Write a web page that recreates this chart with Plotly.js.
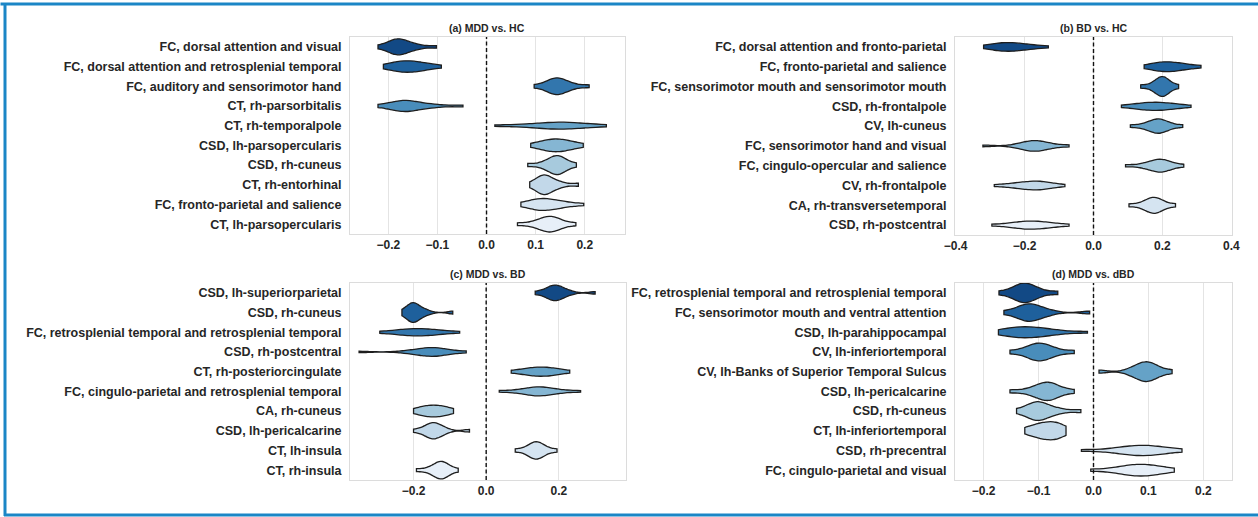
<!DOCTYPE html>
<html>
<head>
<meta charset="utf-8">
<script src="https://cdn.plot.ly/plotly-3.0.1.min.js"></script>
<style>
  html, body { margin: 0; padding: 0; background: #ffffff; }
  #chart { width: 1258px; height: 517px; }
</style>
</head>
<body>
<div id="chart"></div>
<script>
// ---------------- DATA ----------------
const titleA = "(a) MDD vs. HC";
const titleB = "(b) BD vs. HC";
const titleC = "(c) MDD vs. BD";
const titleD = "(d) MDD vs. dBD";

const labelsA = [
  "FC, dorsal attention and visual",
  "FC, dorsal attention and retrosplenial temporal",
  "FC, auditory and sensorimotor hand",
  "CT, rh-parsorbitalis",
  "CT, rh-temporalpole",
  "CSD, lh-parsopercularis",
  "CSD, rh-cuneus",
  "CT, rh-entorhinal",
  "FC, fronto-parietal and salience",
  "CT, lh-parsopercularis"
];
const samplesA = [
  [-0.221, -0.200, -0.192, -0.187, -0.182, -0.179, -0.176, -0.170, -0.163, -0.153, -0.139, -0.102],
  [-0.210, -0.190, -0.183, -0.176, -0.169, -0.162, -0.155, -0.147, -0.139, -0.130, -0.120, -0.092],
  [0.097, 0.120, 0.129, 0.135, 0.139, 0.143, 0.146, 0.151, 0.157, 0.166, 0.178, 0.209],
  [-0.221, -0.193, -0.182, -0.175, -0.169, -0.165, -0.160, -0.152, -0.140, -0.125, -0.103, -0.048],
  [0.017, 0.070, 0.100, 0.118, 0.132, 0.143, 0.150, 0.160, 0.172, 0.188, 0.210, 0.244],
  [0.090, 0.111, 0.120, 0.126, 0.133, 0.139, 0.145, 0.152, 0.159, 0.166, 0.175, 0.197],
  [0.084, 0.112, 0.124, 0.131, 0.137, 0.141, 0.144, 0.147, 0.151, 0.156, 0.164, 0.183],
  [0.088, 0.103, 0.109, 0.113, 0.116, 0.118, 0.121, 0.126, 0.133, 0.141, 0.154, 0.187],
  [0.070, 0.092, 0.099, 0.105, 0.110, 0.115, 0.122, 0.131, 0.140, 0.150, 0.163, 0.198],
  [0.063, 0.094, 0.107, 0.115, 0.122, 0.126, 0.130, 0.133, 0.139, 0.146, 0.156, 0.182]
];

const labelsB = [
  "FC, dorsal attention and fronto-parietal",
  "FC, fronto-parietal and salience",
  "FC, sensorimotor mouth and sensorimotor mouth",
  "CSD, rh-frontalpole",
  "CV, lh-cuneus",
  "FC, sensorimotor hand and visual",
  "FC, cingulo-opercular and salience",
  "CV, rh-frontalpole",
  "CA, rh-transversetemporal",
  "CSD, rh-postcentral"
];
const samplesB = [
  [-0.319, -0.289, -0.277, -0.267, -0.258, -0.249, -0.238, -0.225, -0.211, -0.196, -0.177, -0.131],
  [0.147, 0.175, 0.186, 0.195, 0.204, 0.212, 0.222, 0.233, 0.245, 0.257, 0.274, 0.312],
  [0.137, 0.167, 0.179, 0.187, 0.193, 0.197, 0.200, 0.204, 0.209, 0.215, 0.224, 0.247],
  [0.081, 0.124, 0.138, 0.150, 0.162, 0.174, 0.186, 0.198, 0.210, 0.223, 0.240, 0.283],
  [0.107, 0.145, 0.161, 0.171, 0.179, 0.185, 0.189, 0.194, 0.201, 0.211, 0.224, 0.259],
  [-0.321, -0.224, -0.203, -0.191, -0.182, -0.175, -0.167, -0.160, -0.150, -0.137, -0.119, -0.071],
  [0.093, 0.141, 0.159, 0.172, 0.182, 0.189, 0.194, 0.199, 0.206, 0.215, 0.228, 0.262],
  [-0.288, -0.241, -0.221, -0.205, -0.191, -0.177, -0.167, -0.161, -0.153, -0.141, -0.125, -0.083],
  [0.103, 0.138, 0.151, 0.161, 0.168, 0.173, 0.177, 0.181, 0.188, 0.196, 0.208, 0.238],
  [-0.295, -0.240, -0.222, -0.209, -0.197, -0.186, -0.175, -0.163, -0.151, -0.137, -0.119, -0.071]
];

const labelsC = [
  "CSD, lh-superiorparietal",
  "CSD, rh-cuneus",
  "FC, retrosplenial temporal and retrosplenial temporal",
  "CSD, rh-postcentral",
  "CT, rh-posteriorcingulate",
  "FC, cingulo-parietal and retrosplenial temporal",
  "CA, rh-cuneus",
  "CSD, lh-pericalcarine",
  "CT, lh-insula",
  "CT, rh-insula"
];
const samplesC = [
  [0.135, 0.161, 0.172, 0.179, 0.185, 0.188, 0.193, 0.199, 0.205, 0.214, 0.230, 0.300],
  [-0.232, -0.217, -0.211, -0.206, -0.203, -0.201, -0.197, -0.191, -0.185, -0.176, -0.161, -0.092],
  [-0.293, -0.245, -0.230, -0.218, -0.206, -0.194, -0.182, -0.169, -0.156, -0.142, -0.124, -0.073],
  [-0.350, -0.222, -0.194, -0.178, -0.166, -0.156, -0.147, -0.141, -0.131, -0.119, -0.101, -0.055],
  [0.069, 0.102, 0.116, 0.126, 0.136, 0.146, 0.156, 0.165, 0.175, 0.185, 0.198, 0.230],
  [0.036, 0.089, 0.110, 0.124, 0.135, 0.143, 0.149, 0.157, 0.169, 0.184, 0.205, 0.260],
  [-0.200, -0.182, -0.174, -0.165, -0.157, -0.149, -0.141, -0.133, -0.125, -0.116, -0.108, -0.090],
  [-0.200, -0.174, -0.163, -0.156, -0.151, -0.147, -0.142, -0.137, -0.131, -0.123, -0.109, -0.046],
  [0.080, 0.108, 0.119, 0.126, 0.132, 0.136, 0.140, 0.144, 0.149, 0.157, 0.168, 0.195],
  [-0.192, -0.160, -0.147, -0.138, -0.132, -0.127, -0.124, -0.120, -0.115, -0.109, -0.100, -0.077]
];

const labelsD = [
  "FC, retrosplenial temporal and retrosplenial temporal",
  "FC, sensorimotor mouth and ventral attention",
  "CSD, lh-parahippocampal",
  "CV, lh-inferiortemporal",
  "CV, lh-Banks of Superior Temporal Sulcus",
  "CSD, lh-pericalcarine",
  "CSD, rh-cuneus",
  "CT, lh-inferiortemporal",
  "CSD, rh-precentral",
  "FC, cingulo-parietal and visual"
];
const samplesD = [
  [-0.172, -0.149, -0.141, -0.134, -0.130, -0.126, -0.123, -0.119, -0.113, -0.105, -0.094, -0.065],
  [-0.163, -0.140, -0.132, -0.125, -0.121, -0.117, -0.113, -0.107, -0.101, -0.092, -0.077, -0.007],
  [-0.173, -0.153, -0.144, -0.137, -0.131, -0.125, -0.115, -0.104, -0.093, -0.082, -0.067, -0.011],
  [-0.152, -0.126, -0.116, -0.109, -0.103, -0.100, -0.096, -0.092, -0.085, -0.077, -0.065, -0.035],
  [0.010, 0.065, 0.077, 0.084, 0.089, 0.093, 0.097, 0.101, 0.105, 0.112, 0.120, 0.143],
  [-0.152, -0.120, -0.107, -0.098, -0.092, -0.087, -0.084, -0.080, -0.075, -0.069, -0.059, -0.035],
  [-0.140, -0.121, -0.113, -0.108, -0.104, -0.101, -0.098, -0.092, -0.085, -0.075, -0.060, -0.023],
  [-0.125, -0.111, -0.104, -0.098, -0.092, -0.085, -0.079, -0.075, -0.070, -0.065, -0.060, -0.050],
  [-0.022, 0.035, 0.052, 0.064, 0.074, 0.083, 0.091, 0.099, 0.108, 0.118, 0.131, 0.161],
  [-0.005, 0.040, 0.054, 0.064, 0.073, 0.081, 0.088, 0.095, 0.103, 0.112, 0.124, 0.147]
];

const tickValsA = [-0.2, -0.1, 0.0, 0.1, 0.2];
const tickValsB = [-0.4, -0.2, 0.0, 0.2, 0.4];
const tickValsC = [-0.2, 0.0, 0.2];
const tickValsD = [-0.2, -0.1, 0.0, 0.1, 0.2];

const palette = ["#124985", "#1e609c", "#3276ad", "#498dbb", "#65a2c7",
                 "#85b6d3", "#a7cadd", "#c2d8e9", "#d5e4f1", "#e7eff8"];

// ---------------- PLOT ----------------
const FONT = "Liberation Sans, Arial, Helvetica, sans-serif";
const TXT = "#262626";

const panels = [
  {labels: labelsA, samples: samplesA, title: titleA, ticks: tickValsA, range: [-0.278, 0.282],
   ax: "", dx: [350/1258, 625/1258], dy: [1 - 234/517, 1 - 37/517], group: "a"},
  {labels: labelsB, samples: samplesB, title: titleB, ticks: tickValsB, range: [-0.402, 0.402],
   ax: "2", dx: [955/1258, 1232/1258], dy: [1 - 235/517, 1 - 37/517], group: "b"},
  {labels: labelsC, samples: samplesC, title: titleC, ticks: tickValsC, range: [-0.375, 0.385],
   ax: "3", dx: [350/1258, 626/1258], dy: [1 - 480/517, 1 - 283/517], group: "c"},
  {labels: labelsD, samples: samplesD, title: titleD, ticks: tickValsD, range: [-0.252, 0.252],
   ax: "4", dx: [955/1258, 1232/1258], dy: [1 - 480/517, 1 - 283/517], group: "d"}
];

const traces = [];
const layout = {
  width: 1258, height: 517,
  margin: {l: 0, r: 0, t: 0, b: 0},
  paper_bgcolor: "#ffffff",
  plot_bgcolor: "#ffffff",
  showlegend: false,
  violinmode: "overlay",
  violingap: 0,
  violingroupgap: 0,
  font: {family: FONT, color: TXT, size: 12},
  annotations: [],
  shapes: []
};

panels.forEach(p => {
  const xa = "x" + p.ax, ya = "y" + p.ax;
  p.labels.forEach((lab, i) => {
    traces.push({
      type: "violin",
      orientation: "h",
      x: p.samples[i],
      y: p.samples[i].map(() => lab),
      xaxis: xa, yaxis: ya,
      scalegroup: p.group,
      scalemode: "width",
      spanmode: "hard",
      points: false,
      box: {visible: false},
      meanline: {visible: false},
      fillcolor: palette[i],
      line: {color: "#1e1e1e", width: 1.3},
      opacity: 1,
      hoverinfo: "x+y",
      showlegend: false
    });
  });
  layout["xaxis" + p.ax] = {
    domain: p.dx, anchor: ya, range: p.range,
    tickvals: p.ticks, tickformat: ".1f",
    showgrid: true, gridcolor: "#e4e4e4", gridwidth: 1.3,
    zeroline: false, showline: true, mirror: true, linecolor: "#dcdcdc", linewidth: 1,
    ticks: "", tickfont: {family: FONT, size: 12, color: TXT, weight: "bold"},
    fixedrange: true
  };
  layout["yaxis" + p.ax] = {
    domain: p.dy, anchor: xa, type: "category",
    categoryorder: "array", categoryarray: p.labels,
    range: [p.labels.length - 0.5, -0.5],
    showgrid: false, zeroline: false, showline: true, mirror: true,
    linecolor: "#dcdcdc", linewidth: 1,
    ticks: "", ticklabelstandoff: 5,
    tickfont: {family: FONT, size: 12.5, color: TXT, weight: "bold"},
    fixedrange: true
  };
  layout.annotations.push({
    text: p.title, xref: xa + " domain", yref: ya + " domain",
    x: 0.5, y: 1, xanchor: "center", yanchor: "bottom", yshift: 1,
    showarrow: false, font: {family: FONT, size: 10.5, color: TXT, weight: "bold"}
  });
  layout.shapes.push({
    type: "line", xref: xa, yref: ya + " domain",
    x0: 0, x1: 0, y0: 0, y1: 1,
    line: {color: "#111111", width: 1.4, dash: "4px,2.5px"},
    layer: "above"
  });
});

// figure frame (blue border)
const frameColor = "#1b86c6";
layout.shapes.push(
  {type: "line", xref: "paper", yref: "paper", x0: 0.5/1258, x1: 1, y0: 1 - 4/517, y1: 1 - 4/517, line: {color: frameColor, width: 3}},
  {type: "line", xref: "paper", yref: "paper", x0: 5/1258, x1: 5/1258, y0: 1 - 3/517, y1: 1 - 516/517, line: {color: frameColor, width: 3}},
  {type: "line", xref: "paper", yref: "paper", x0: 4/1258, x1: 1, y0: 1 - 515/517, y1: 1 - 515/517, line: {color: frameColor, width: 3}}
);

Plotly.newPlot("chart", traces, layout, {displayModeBar: false, staticPlot: true});
</script>
</body>
</html>
